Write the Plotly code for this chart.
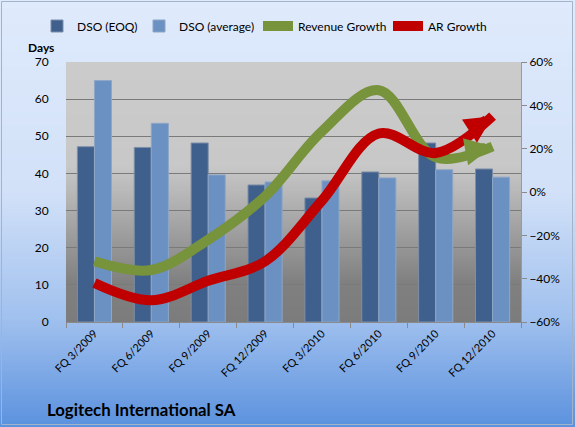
import zlib, struct, base64
import plotly.graph_objects as go

categories = ["FQ 3/2009", "FQ 6/2009", "FQ 9/2009", "FQ 12/2009",
              "FQ 3/2010", "FQ 6/2010", "FQ 9/2010", "FQ 12/2010"]
dso_eoq = [47.2, 47.0, 48.2, 36.9, 33.4, 40.4, 48.2, 41.2]
dso_avg = [65.0, 53.5, 39.6, 37.7, 38.0, 38.8, 41.0, 39.0]
revenue_growth = [-0.32, -0.36, -0.22, -0.02, 0.28, 0.47, 0.16, 0.21]
ar_growth = [-0.42, -0.50, -0.41, -0.32, -0.04, 0.27, 0.18, 0.35]

W_FIG, H_FIG = 575, 427
ML, MR, MT, MB = 66, 54, 62, 105
PW, PH = W_FIG - ML - MR, H_FIG - MT - MB


def lerp_stops(stops, n):
    out = []
    for i in range(n):
        f = i / (n - 1)
        for (f0, c0), (f1, c1) in zip(stops[:-1], stops[1:]):
            if f0 <= f <= f1:
                t = 0 if f1 == f0 else (f - f0) / (f1 - f0)
                out.append(tuple(int(round(a + (b - a) * t)) for a, b in zip(c0, c1)))
                break
    return out


def make_png(colors, w=2):
    h = len(colors)
    raw = b"".join(b"\x00" + bytes(c) * w for c in colors)

    def chunk(t, d):
        c = struct.pack(">I", len(d)) + t + d
        return c + struct.pack(">I", zlib.crc32(t + d) & 0xffffffff)

    png = (b"\x89PNG\r\n\x1a\n"
           + chunk(b"IHDR", struct.pack(">IIBBBBB", w, h, 8, 2, 0, 0, 0))
           + chunk(b"IDAT", zlib.compress(raw))
           + chunk(b"IEND", b""))
    return "data:image/png;base64," + base64.b64encode(png).decode()


paper_grad = make_png(lerp_stops([
    (0.0, (223, 234, 252)), (0.45, (210, 225, 248)),
    (0.75, (160, 192, 238)), (1.0, (92, 146, 222))], 256))
plot_grad = make_png(lerp_stops([
    (0.0, (203, 203, 203)), (0.40, (200, 200, 200)),
    (0.62, (165, 165, 165)), (0.85, (128, 128, 128)), (1.0, (124, 124, 124))], 256))

FONT = "Lato, 'Noto Sans', sans-serif"
n = len(categories)
GREEN, RED = "#77933c", "#c00000"

fig = go.Figure()
fig.add_trace(go.Bar(x=categories, y=dso_eoq, name="DSO (EOQ)", legend="legend",
                     marker=dict(color="#3f5f8c", line=dict(color="#7d8fa8", width=1))))
fig.add_trace(go.Bar(x=categories, y=dso_avg, name="DSO (average)", legend="legend2",
                     marker=dict(color="#6b90c2", line=dict(color="#8fa6c6", width=1))))
fig.add_trace(go.Scatter(x=categories, y=revenue_growth, name="Revenue Growth", yaxis="y2",
                         mode="lines", legend="legend3",
                         line=dict(color=GREEN, width=10, shape="spline", smoothing=1.0)))
fig.add_trace(go.Scatter(x=categories, y=ar_growth, name="AR Growth", yaxis="y2",
                         mode="lines", legend="legend4",
                         line=dict(color=RED, width=10, shape="spline", smoothing=1.0)))


def arrow_head(series, color):
    back = 0.3
    return dict(x=n - 1, y=series[-1], xref="x", yref="y2",
                ax=n - 1 - back, ay=series[-1] + (series[-2] - series[-1]) * back,
                axref="x", ayref="y2", text="", showarrow=True,
                arrowhead=2, arrowsize=0.55, arrowwidth=10, arrowcolor=color, standoff=0)


def legend_at(px):
    return dict(orientation="h", x=px / W_FIG, xanchor="left", xref="container",
                y=1 - 26 / H_FIG, yref="container", yanchor="middle",
                font=dict(size=12), bgcolor="rgba(0,0,0,0)", itemwidth=30)


fig.update_layout(
    template="none",
    width=W_FIG, height=H_FIG,
    margin=dict(l=ML, r=MR, t=MT, b=MB, pad=0, autoexpand=False),
    paper_bgcolor="#dfeafc", plot_bgcolor="rgba(0,0,0,0)",
    font=dict(family=FONT, size=12, color="#000000"),
    barmode="group", bargap=0.4, bargroupgap=0.0,
    showlegend=True,
    legend=legend_at(37), legend2=legend_at(139),
    legend3=legend_at(258), legend4=legend_at(388),
    xaxis=dict(type="category", range=[-0.5, n - 0.5], tickangle=-45, automargin=False,
               tickson="boundaries", ticks="outside", ticklen=5, tickcolor="#8a8a8a",
               showline=True, linecolor="#8a8a8a", showgrid=False,
               tickfont=dict(size=11)),
    yaxis=dict(range=[0, 70], dtick=10, showgrid=True, gridcolor="#7a7a7a", gridwidth=1,
               automargin=False,
               zeroline=False, showline=False, ticks="outside", ticklen=14,
               tickcolor="rgba(0,0,0,0)", tickfont=dict(size=12)),
    yaxis2=dict(range=[-0.6, 0.6], dtick=0.2, tickformat=".0%", overlaying="y", side="right",
                automargin=False,
                showgrid=False, zeroline=False, showline=True, linecolor="#9a9a9a",
                ticks="outside", ticklen=5, tickcolor="#8a8a8a", tickfont=dict(size=12)),
    title=dict(text="<b>Logitech International SA</b>", xref="container", yref="container",
               x=47 / W_FIG, xanchor="left", y=1 - 410 / H_FIG, yanchor="middle",
               font=dict(size=16.8, family=FONT, color="#000000")),
    images=[
        dict(source=paper_grad, xref="paper", yref="paper", x=-ML / PW, y=1 + MT / PH,
             sizex=W_FIG / PW, sizey=H_FIG / PH, xanchor="left", yanchor="top",
             sizing="stretch", layer="below"),
        dict(source=plot_grad, xref="paper", yref="paper", x=0, y=1, sizex=1, sizey=1,
             xanchor="left", yanchor="top", sizing="stretch", layer="below"),
    ],
    annotations=[
        dict(text="<b>Days</b>", xref="paper", yref="paper",
             x=(41 - ML) / PW, y=1 + (MT - 47) / PH, showarrow=False,
             xanchor="center", yanchor="middle", font=dict(size=12)),
        arrow_head(revenue_growth, GREEN),
        arrow_head(ar_growth, RED),
    ],
    shapes=[dict(type="rect", xref="paper", yref="paper",
                 x0=-(ML - 1.5) / PW, x1=1 + (MR - 2.5) / PW,
                 y0=-(MB - 2.5) / PH, y1=1 + (MT - 1.5) / PH,
                 line=dict(color="#a3b3c8", width=1), layer="below")],
)

fig.write_html("out.html",
               config={"displayModeBar": False, "staticPlot": True},
               post_script="document.body.style.margin='0';document.body.style.padding='0';"
                           "document.body.style.overflow='hidden';")
